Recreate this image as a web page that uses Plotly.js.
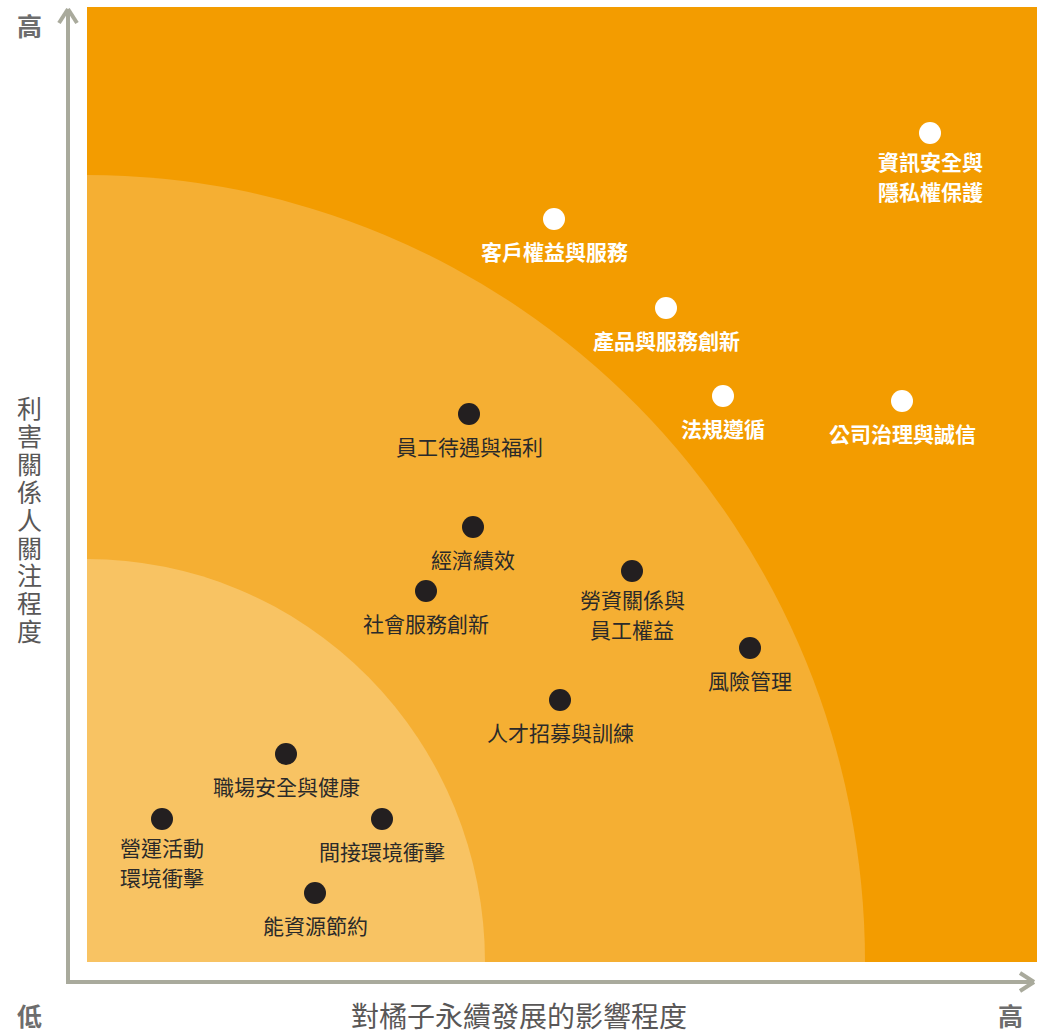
<!DOCTYPE html>
<html>
<head>
<meta charset="utf-8">
<script src="https://cdn.plot.ly/plotly-3.0.1.min.js"></script>
<style>
html,body{margin:0;padding:0;background:#fff;}
#chart{width:1037px;height:1032px;}
</style>
</head>
<body>
<div id="chart"></div>
<script>
// ---- data (impact on sustainability = x, stakeholder concern = y) ----
const highTopics = ["資訊安全與<br>隱私權保護", "客戶權益與服務", "產品與服務創新", "法規遵循", "公司治理與誠信"];
const highX = [843, 467, 579, 636, 815];
const highY = [829, 743, 654, 566, 561];

const otherTopics = ["員工待遇與福利", "經濟績效", "社會服務創新", "勞資關係與<br>員工權益", "風險管理",
                     "人才招募與訓練", "職場安全與健康", "營運活動<br>環境衝擊", "間接環境衝擊", "能資源節約"];
const otherX = [382, 386, 339, 545, 663, 473, 199, 75, 295, 228];
const otherY = [548, 435, 371, 391, 314, 262, 208, 143, 143, 69];

const xTitle = "對橘子永續發展的影響程度";
const yTitle = "利害關係人關注程度";
const lowLabel = "低";
const highLabel = "高";

// zone boundaries (quarter ellipses from origin)
const zoneRx = [778, 398];
const zoneRy = [787, 403];

// ---- layout helpers ----
const W = 1037, H = 1032, L = 87, T = 7, PW = 950, PH = 955;
const px2paperX = p => (p - L) / PW;
const px2paperY = p => (T + PH - p) / PH;

const FONT = '"Noto Sans CJK TC", "Noto Sans CJK SC", sans-serif';
const AXIS_COL = '#a9aa9c';
const TXT_GRAY = '#595757';

const traces = [
  {
    type: 'scatter', mode: 'markers', x: otherX, y: otherY,
    marker: {size: 22, color: '#231f20'}, hoverinfo: 'skip', showlegend: false
  },
  {
    type: 'scatter', mode: 'markers', x: highX, y: highY,
    marker: {size: 22, color: '#ffffff'}, hoverinfo: 'skip', showlegend: false
  }
];

const annotations = [];
function addLabel(x, y, txt, color, weight) {
  const lines = txt.split('<br>');
  const first = lines.length > 1 ? -28 : -32;
  lines.forEach((ln, i) => {
    annotations.push({
      x: x, y: y, xref: 'x', yref: 'y', text: weight === 'bold' ? '<b>' + ln + '</b>' : ln,
      showarrow: false, xanchor: 'center', yanchor: 'middle',
      yshift: first - i * 30,
      font: {family: FONT, size: 21, color: color}
    });
  });
}
highTopics.forEach((t, i) => addLabel(highX[i], highY[i], t, '#ffffff', 'bold'));
otherTopics.forEach((t, i) => addLabel(otherX[i], otherY[i], t, '#2a2a2a', 'normal'));

// axis titles
annotations.push({
  xref: 'paper', yref: 'paper', x: px2paperX(519), y: px2paperY(1015),
  text: xTitle, showarrow: false, xanchor: 'center', yanchor: 'middle',
  font: {family: FONT, size: 28, color: TXT_GRAY}
});
Array.from(yTitle).forEach((ch, i) => {
  annotations.push({
    xref: 'paper', yref: 'paper', x: px2paperX(29), y: px2paperY(407 + i * 27.9),
    text: ch, showarrow: false, xanchor: 'center', yanchor: 'middle',
    font: {family: FONT, size: 25, color: TXT_GRAY}
  });
});
[[29, 25, highLabel], [29, 1015, lowLabel], [1010, 1015, highLabel]].forEach(([x, y, t]) => {
  annotations.push({
    xref: 'paper', yref: 'paper', x: px2paperX(x), y: px2paperY(y),
    text: '<b>' + t + '</b>', showarrow: false, xanchor: 'center', yanchor: 'middle',
    font: {family: FONT, size: 25, color: '#6d6d6d'}
  });
});

// shapes: zones + axis arrows
const shapes = [];
const zoneCols = ['#f5af33', '#f8c363'];
zoneRx.forEach((rx, i) => {
  shapes.push({
    type: 'circle', xref: 'x', yref: 'y', x0: -rx, x1: rx, y0: -zoneRy[i], y1: zoneRy[i],
    fillcolor: zoneCols[i], line: {width: 0}, layer: 'below'
  });
});
function seg(x0, y0, x1, y1) {
  shapes.push({
    type: 'line', xref: 'paper', yref: 'paper',
    x0: px2paperX(x0), y0: px2paperY(y0), x1: px2paperX(x1), y1: px2paperY(y1),
    line: {color: AXIS_COL, width: 4}
  });
}
seg(68, 982, 68, 10);     // vertical axis
seg(66, 982, 1034, 982);  // horizontal axis
seg(68, 9, 59, 23); seg(68, 9, 77, 23);
seg(1034, 982, 1020, 973); seg(1034, 982, 1020, 991);

const layout = {
  width: W, height: H,
  margin: {l: L, r: W - L - PW, t: T, b: H - T - PH, pad: 0},
  paper_bgcolor: '#ffffff', plot_bgcolor: '#f39c00',
  xaxis: {range: [0, PW], visible: false, fixedrange: true, showgrid: false, zeroline: false},
  yaxis: {range: [0, PH], visible: false, fixedrange: true, showgrid: false, zeroline: false},
  showlegend: false,
  shapes: shapes,
  annotations: annotations
};

Plotly.newPlot('chart', traces, layout, {displayModeBar: false, staticPlot: true});
</script>
</body>
</html>
